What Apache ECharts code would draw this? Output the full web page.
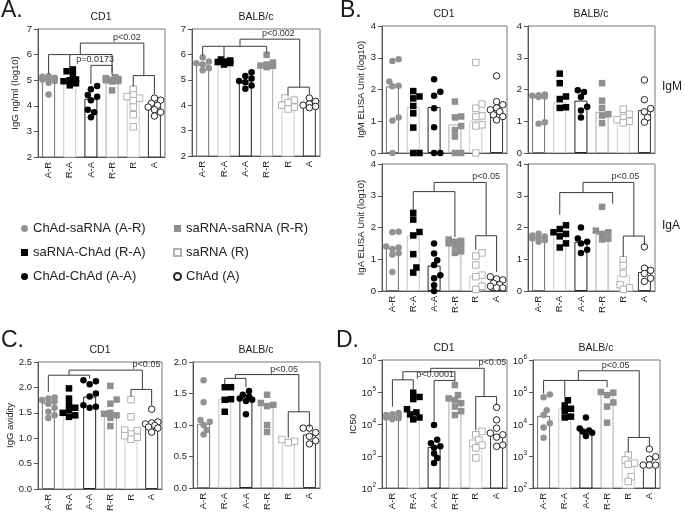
<!DOCTYPE html>
<html>
<head>
<meta charset="utf-8">
<title>Antibody responses</title>
<script src="https://cdn.jsdelivr.net/npm/echarts@6.0.0/dist/echarts.min.js"></script>
<style>
  html, body { margin: 0; padding: 0; background: #fff; }
  #main { width: 685px; height: 513px; }
</style>
</head>
<body>
<div id="main"></div>
<script type="text/javascript">
var groups = ['A-R', 'R-A', 'A-A', 'R-R', 'R', 'A'];
var groupNames = ['ChAd-saRNA (A-R)', 'saRNA-ChAd (R-A)', 'ChAd-ChAd (A-A)',
                  'saRNA-saRNA (R-R)', 'saRNA (R)', 'ChAd (A)'];

// A. IgG ng/ml (log10)
var iggCD1 = [
  [5.16, 5.13, 5.1, 5.06, 5.03, 4.97, 4.9, 4.44],
  [5.42, 5.35, 5.2, 5.03, 5.0, 4.96, 4.88, 4.8],
  [4.77, 4.65, 4.42, 4.35, 4.22, 3.85, 3.75, 3.55],
  [5.12, 5.08, 5.05, 5.02, 5.0, 4.97, 4.95, 4.6],
  [4.65, 4.42, 4.36, 4.3, 4.2, 3.95, 3.65, 3.18],
  [4.3, 4.22, 4.1, 4.02, 3.95, 3.85, 3.75, 3.6]
];
var iggCD1Bar = [5.05, 4.92, 4.28, 5.0, 4.25, 4.0];
var iggBALB = [
  [5.88, 5.72, 5.65, 5.6, 5.45, 5.38],
  [5.8, 5.76, 5.72, 5.7, 5.66, 5.6],
  [5.3, 5.15, 5.05, 4.95, 4.9, 4.78, 4.65],
  [5.98, 5.68, 5.6, 5.56, 5.55, 5.5],
  [4.28, 4.2, 4.1, 4.0, 3.92, 3.85],
  [4.28, 4.15, 4.05, 4.0, 3.95, 3.9]
];
var iggBALBBar = [5.6, 5.7, 4.98, 5.58, 4.05, 4.0];

// B. IgM / IgA ELISA unit (log10)
var igmCD1 = [
  [2.95, 2.9, 2.25, 2.12, 2.1, 1.12, 1.02, 0],
  [1.95, 1.78, 1.72, 1.48, 1.25, 0.8, 0, 0],
  [2.32, 1.93, 1.8, 1.41, 0.81, 0, 0],
  [1.62, 1.15, 1.12, 0.85, 0.72, 0.52, 0, 0],
  [2.85, 1.54, 1.41, 1.17, 1.15, 0.89, 0.85, 0],
  [2.43, 1.62, 1.52, 1.42, 1.36, 1.3, 1.2, 1.15, 1.04]
];
var igmCD1Bar = [2.1, 1.45, 1.45, 0.9, 1.02, 1.35];
var igmBALB = [
  [1.84, 1.82, 1.8, 1.78, 1.76, 0.97, 0.92],
  [2.5, 2.2, 1.78, 1.7, 1.44, 1.42],
  [1.98, 1.92, 1.76, 1.46, 1.34, 1.12],
  [2.2, 1.65, 1.42, 1.22, 1.18, 0.94],
  [1.38, 1.22, 1.12, 1.05, 1.0, 0.95],
  [2.3, 1.68, 1.4, 1.3, 1.12, 0.97]
];
var igmBALBBar = [1.77, 1.6, 1.65, 1.3, 1.1, 1.35];
var igaCD1 = [
  [1.87, 1.85, 1.4, 1.37, 1.32, 1.2, 1.15, 0.6],
  [2.46, 2.25, 1.86, 1.75, 1.16, 0.74, 0.58],
  [1.5, 1.18, 0.97, 0.82, 0.5, 0.4, 0.18, 0],
  [1.62, 1.58, 1.55, 1.5, 1.45, 1.4, 1.25, 1.2],
  [1.2, 1.1, 0.82, 0.5, 0.45, 0.15, 0.05],
  [0.45, 0.38, 0.35, 0.25, 0.2, 0.15, 0.1, 0.1]
];
var igaCD1Bar = [1.35, 1.75, 0.8, 1.48, 0.48, 0.25];
var igaBALB = [
  [1.8, 1.75, 1.72, 1.68, 1.65, 1.6, 1.55],
  [2.07, 1.95, 1.85, 1.8, 1.72, 1.5, 1.37],
  [2.0, 1.65, 1.55, 1.5, 1.3, 1.2],
  [2.65, 1.9, 1.85, 1.8, 1.65, 1.62],
  [0.99, 0.8, 0.55, 0.2, 0.1, 0.05],
  [1.39, 0.72, 0.65, 0.55, 0.4, 0.3]
];
var igaBALBBar = [1.68, 1.8, 1.55, 1.8, 0.5, 0.6];

// C. IgG avidity
var avidCD1 = [
  [1.8, 1.78, 1.75, 1.72, 1.68, 1.6, 1.52, 1.45, 1.4],
  [1.98, 1.78, 1.66, 1.6, 1.55, 1.5, 1.45, 1.42],
  [2.14, 2.12, 2.06, 1.88, 1.82, 1.65, 1.62, 1.6],
  [2.03, 1.76, 1.68, 1.5, 1.48, 1.45, 1.4, 1.24],
  [1.76, 1.42, 1.16, 1.15, 1.08, 1.05, 1.02, 0.98],
  [1.57, 1.32, 1.3, 1.28, 1.25, 1.22, 1.2, 1.12]
];
var avidCD1Bar = [1.7, 1.55, 1.82, 1.5, 1.1, 1.25];
var avidBALB = [
  [1.71, 1.36, 1.08, 1.05, 1.0, 0.92, 0.85],
  [1.6, 1.6, 1.41, 1.4, 1.21],
  [1.54, 1.48, 1.45, 1.42, 1.4, 1.38, 1.17],
  [1.48, 1.35, 1.32, 1.3, 1.0, 0.89],
  [0.77, 0.74, 0.72],
  [0.95, 0.95, 0.88, 0.82, 0.75, 0.7]
];
var avidBALBBar = [1.02, 1.42, 1.45, 1.32, 0.72, 0.85];

// D. IC50
var ic50CD1 = [
  [22000, 20000, 19000, 18000, 17000, 16000, 15000, 14000],
  [95000, 70000, 60000, 29000, 23000, 20000, 16000, 14000],
  [9300, 3200, 2500, 2000, 1800, 1200, 870, 600],
  [165000, 80000, 63000, 56000, 45000, 35000, 25000, 19000],
  [5900, 4600, 3200, 2500, 2200, 1800, 870],
  [33000, 13500, 7400, 5200, 4600, 3900, 2200, 2000]
];
var ic50CD1Bar = [15000, 23000, 1900, 56000, 3000, 4500];
var ic50BALB = [
  [83000, 68000, 27000, 19000, 10500, 7800, 3700],
  [55000, 38000, 30000, 26000, 17000, 16000],
  [16000, 7200, 6300, 5800, 5300, 4200],
  [100000, 95000, 80000, 47000, 35000, 11000],
  [1070, 750, 600, 550, 225, 160],
  [1650, 950, 800, 520, 520, 520]
];
var ic50BALBBar = [18000, 30000, 6000, 90000, 720, 600];

// significance brackets, in data units (x = category index)
var brIggCD1 = [
  {xs: [0, 1, 3], ends: [5.25, 5.5, 5.3], top: 6.0},
  {xs: [2, 3], ends: [4.85, 5.2], top: 5.58, text: 'p=0.0173', tx: 2.2},
  {xs: [4, 5], ends: [4.75, 4.45], top: 5.18},
  {xs: [1.5, 4.5], ends: [6.0, 5.18], top: 6.45, text: 'p<0.02', tx: 3.7}
];
var brIggBALB = [
  {xs: [0, 1, 3], ends: [5.95, 5.85, 6.05], top: 6.32},
  {xs: [4, 5], ends: [4.4, 4.4], top: 4.71},
  {xs: [1.75, 4.55], ends: [6.32, 4.71], top: 6.6, text: 'p<0.002', tx: 3.55}
];
var brIgaCD1 = [
  {xs: [1, 3], ends: [2.55, 1.7], top: 3.13},
  {xs: [4, 5], ends: [1.3, 0.6], top: 1.74},
  {xs: [2.0, 4.5], ends: [3.13, 1.74], top: 3.42, text: 'p<0.05', tx: 4.5}
];
var brIgaBALB = [
  {xs: [1, 3.5], ends: [2.4, 2.75], top: 3.1},
  {xs: [4, 5], ends: [1.07, 1.45], top: 1.73},
  {xs: [2.1, 4.5], ends: [3.1, 1.73], top: 3.42, text: 'p<0.05', tx: 4.1}
];
var brAvidCD1 = [
  {xs: [0, 2], ends: [1.91, 2.17], top: 2.24},
  {xs: [4, 5], ends: [1.82, 1.64], top: 1.96},
  {xs: [1.0, 4.55], ends: [2.24, 1.96], top: 2.34, text: 'p<0.05', tx: 4.75}
];
var brAvidBALB = [
  {xs: [1, 2], ends: [1.64, 1.6], top: 1.74},
  {xs: [4, 5], ends: [0.8, 0.96], top: 1.21},
  {xs: [1.5, 4.5], ends: [1.74, 1.21], top: 1.8, text: 'p<0.05', tx: 3.8}
];
var brIc50CD1 = [
  {xs: [0, 1], ends: [35000, 115000], top: 240000},
  {xs: [2, 3], ends: [12000, 210000], top: 230000, text: 'p<0.0001', tx: 2.05},
  {xs: [0.5, 3], ends: [240000, 230000], top: 430000},
  {xs: [4, 5], ends: [6300, 40000], top: 72000},
  {xs: [1.84, 4.4], ends: [430000, 72000], top: 550000, text: 'p<0.05', tx: 4.8}
];
var brIc50BALB = [
  {xs: [0, 1, 3], ends: [90000, 70000, 140000], top: 230000},
  {xs: [4, 5], ends: [1300, 2000], top: 3800},
  {xs: [1.64, 4.52], ends: [230000, 3800], top: 460000, text: 'p<0.05', tx: 3.4}
];

var FONT = '"Liberation Sans", Arial, Helvetica, sans-serif';
var symbols = ['circle', 'rect', 'circle', 'rect', 'rect', 'circle'];
var fills = ['#929292', '#000000', '#000000', '#8f8f8f', '#ffffff', '#ffffff'];
var strokes = ['#929292', '#000000', '#000000', '#8f8f8f', '#b0b0b0', '#222222'];
var barBorders = ['#707070', '#c6c6c6', '#222222', '#ababab', '#cfcfcf', '#333333'];

var panels = [
  {box: [38, 29, 127, 128], min: 2, max: 7, step: 1, pts: iggCD1, bar: iggCD1Bar, br: brIggCD1,
   name: 'IgG ng/ml (log10)', gap: 18, xlab: true},
  {box: [192, 29, 128, 127], min: 2, max: 7, step: 1, pts: iggBALB, bar: iggBALBBar, br: brIggBALB, xlab: true},
  {box: [382, 26, 125, 127], min: 0, max: 4, step: 1, pts: igmCD1, bar: igmCD1Bar, br: [],
   name: 'IgM ELISA Unit (log10)', gap: 12, xlab: false},
  {box: [528, 26, 127, 127], min: 0, max: 4, step: 1, pts: igmBALB, bar: igmBALBBar, br: [], xlab: false},
  {box: [382, 164, 125, 127], min: 0, max: 4, step: 1, pts: igaCD1, bar: igaCD1Bar, br: brIgaCD1,
   name: 'IgA ELISA Unit (log10)', gap: 12, xlab: true},
  {box: [528, 164, 127, 127], min: 0, max: 4, step: 1, pts: igaBALB, bar: igaBALBBar, br: brIgaBALB, xlab: true},
  {box: [38, 362, 124, 127], min: 0, max: 2.5, step: 0.5, dec: 1, pts: avidCD1, bar: avidCD1Bar, br: brAvidCD1,
   name: 'IgG avidity', gap: 20, xlab: true},
  {box: [193, 362, 127, 126], min: 0, max: 2, step: 0.5, dec: 1, pts: avidBALB, bar: avidBALBBar, br: brAvidBALB, xlab: true},
  {box: [382, 360, 125, 128], min: 100, max: 1000000, log: true, pts: ic50CD1, bar: ic50CD1Bar, br: brIc50CD1,
   name: 'IC50', gap: 19, xlab: true},
  {box: [533, 360, 127, 128], min: 100, max: 1000000, log: true, pts: ic50BALB, bar: ic50BALBBar, br: brIc50BALB, xlab: true}
];

// spread the dots of one column sideways so they do not overlap too much (beeswarm)
function swarm(vals, toPx, band) {
  var d = 5.2;
  var order = vals.map(function (v, i) { return i; })
                  .sort(function (a, b) { return vals[a] - vals[b]; });
  var placed = [];
  var out = [];
  order.forEach(function (i) {
    var y = toPx(vals[i]);
    var best = 0, bestHit = Infinity;
    for (var k = 0; k < 9; k++) {
      var off = (k % 2 ? 1 : -1) * Math.ceil(k / 2) * d * 0.6;
      if (Math.abs(off) > band * 0.36) break;
      var hit = 0;
      placed.forEach(function (q) {
        var dx = q[0] - off, dy = q[1] - y;
        var dist = Math.sqrt(dx * dx + dy * dy);
        if (dist < d) hit += d - dist;
      });
      if (hit < bestHit - 0.01) { bestHit = hit; best = off; }
      if (hit === 0) break;
    }
    placed.push([best, y]);
    out[i] = best / band;
  });
  return out;
}

function bracketRenderer(list) {
  return function (params, api) {
    var b = list[params.dataIndex];
    var line = {stroke: '#3a3a3a', lineWidth: 1};
    var a = api.coord([b.xs[0], b.top]);
    var z = api.coord([b.xs[b.xs.length - 1], b.top]);
    var kids = [{type: 'line', shape: {x1: a[0], y1: a[1], x2: z[0], y2: z[1]}, style: line}];
    b.xs.forEach(function (x, j) {
      var p = api.coord([x, b.top]);
      var q = api.coord([x, b.ends[j]]);
      kids.push({type: 'line', shape: {x1: p[0], y1: p[1], x2: q[0], y2: q[1]}, style: line});
    });
    if (b.text) {
      var t = api.coord([b.tx, b.top]);
      kids.push({type: 'text', x: t[0], y: t[1] - 1,
        style: {text: b.text, fill: '#333', fontSize: 9, fontFamily: FONT,
                align: 'center', verticalAlign: 'bottom'}});
    }
    return {type: 'group', children: kids};
  };
}

function titleItem(text, left, top, size, center) {
  return {text: text, left: left, top: top, padding: 0,
          textAlign: center ? 'center' : 'left',
          textStyle: {fontSize: size, fontWeight: 'normal', color: '#1a1a1a', fontFamily: FONT}};
}

var option = {
  animation: false,
  backgroundColor: '#ffffff',
  textStyle: {fontFamily: FONT},
  title: [
    titleItem('A.', 1, -1, 23), titleItem('CD1', 101, 12, 10.5, true), titleItem('BALB/c', 256, 12, 10.5, true),
    titleItem('B.', 340, -1, 23), titleItem('CD1', 444, 9, 10.5, true), titleItem('BALB/c', 591, 9, 10.5, true),
    titleItem('IgM', 662, 81, 12), titleItem('IgA', 662, 220, 12),
    titleItem('C.', 1, 329, 23), titleItem('CD1', 100, 345, 10.5, true), titleItem('BALB/c', 256, 345, 10.5, true),
    titleItem('D.', 336, 329, 23), titleItem('CD1', 444, 343, 10.5, true), titleItem('BALB/c', 596, 343, 10.5, true)
  ],
  legend: [
    {data: groupNames.slice(0, 3), orient: 'vertical', left: 21, top: 222, padding: 0,
     itemWidth: 7, itemHeight: 7, itemGap: 11, selectedMode: false,
     textStyle: {fontSize: 13, color: '#222', fontFamily: FONT}},
    {data: groupNames.slice(3), orient: 'vertical', left: 173, top: 222, padding: 0,
     itemWidth: 7, itemHeight: 7, itemGap: 11, selectedMode: false,
     textStyle: {fontSize: 13, color: '#222', fontFamily: FONT}}
  ],
  grid: [], xAxis: [], yAxis: [], series: []
};

panels.forEach(function (p, k) {
  var w = p.box[2], h = p.box[3];
  option.grid.push({left: p.box[0], top: p.box[1], width: w, height: h, show: true,
    borderColor: '#777', borderWidth: 1, backgroundColor: 'transparent', outerBoundsMode: 'none'});
  option.xAxis.push({type: 'category', gridIndex: k, data: groups, boundaryGap: true,
    axisLine: {onZero: false, lineStyle: {color: '#555', width: 1}},
    axisTick: {alignWithLabel: true, length: 4, lineStyle: {color: '#555'}},
    axisLabel: {show: p.xlab, rotate: 90, interval: 0, margin: 5, fontSize: 9.5, color: '#222'},
    splitLine: {show: false}});
  option.xAxis.push({type: 'value', gridIndex: k, min: -0.5, max: 5.5, show: false,
    axisLine: {onZero: false}});

  var yAxis = {gridIndex: k, min: p.min, max: p.max,
    name: p.name || '', nameLocation: 'middle', nameGap: p.gap || 15,
    nameTextStyle: {fontSize: 9.5, color: '#222'},
    axisLine: {show: true, onZero: false, lineStyle: {color: '#555', width: 1}},
    axisTick: {show: true, length: 4, lineStyle: {color: '#555'}},
    splitLine: {show: false},
    axisLabel: {fontSize: 9.5, color: '#222', margin: 6}};
  if (p.log) {
    yAxis.type = 'log';
    yAxis.logBase = 10;
    yAxis.axisLabel.formatter = function (v) {
      return '{b|10}{s|' + Math.round(Math.log(v) / Math.LN10) + '}';
    };
    yAxis.axisLabel.rich = {
      b: {fontSize: 9.5, color: '#222', verticalAlign: 'bottom', lineHeight: 13},
      s: {fontSize: 6.5, color: '#222', verticalAlign: 'top', lineHeight: 13}
    };
  } else {
    yAxis.type = 'value';
    yAxis.interval = p.step;
    var dec = p.dec || 0;
    yAxis.axisLabel.formatter = function (v) { return v.toFixed(dec); };
  }
  option.yAxis.push(yAxis);

  var toPx = function (v) {
    if (p.log) {
      return (Math.log(v) - Math.log(p.min)) / (Math.log(p.max) - Math.log(p.min)) * h;
    }
    return (v - p.min) / (p.max - p.min) * h;
  };

  option.series.push({type: 'bar', xAxisIndex: 2 * k, yAxisIndex: k, barWidth: 13, silent: true, z: 2,
    itemStyle: {color: '#ffffff', borderWidth: 1},
    data: p.bar.map(function (v, i) { return {value: v, itemStyle: {borderColor: barBorders[i]}}; })});

  p.pts.forEach(function (vals, g) {
    var offs = swarm(vals, toPx, w / 6);
    option.series.push({type: 'scatter', name: groupNames[g], xAxisIndex: 2 * k + 1, yAxisIndex: k,
      symbol: symbols[g], symbolSize: 6.5, clip: false, silent: true, z: 3,
      itemStyle: {color: fills[g], borderColor: strokes[g], borderWidth: (g >= 4) ? 1 : 0, opacity: 1},
      data: vals.map(function (v, j) { return [g + offs[j], v]; })});
  });

  if (p.br.length) {
    option.series.push({type: 'custom', xAxisIndex: 2 * k + 1, yAxisIndex: k, silent: true, z: 4, clip: false,
      renderItem: bracketRenderer(p.br),
      data: p.br.map(function (b) { return [b.xs[0], b.top]; })});
  }
});

var myChart = echarts.init(document.getElementById('main'));
myChart.setOption(option);
</script>
</body>
</html>
